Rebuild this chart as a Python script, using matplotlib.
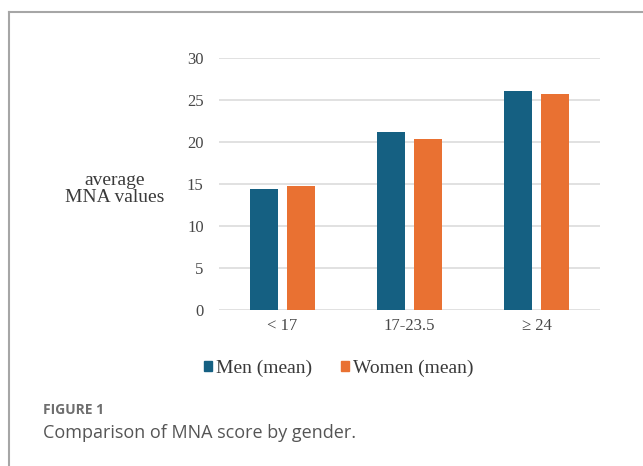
import matplotlib.pyplot as plt
from matplotlib.lines import Line2D
from matplotlib.patches import Patch
import numpy as np

# datos
categorias = ["< 17", "17-23.5", "\u2265 24"]
hombres = [14.4, 21.2, 26.1]
mujeres = [14.8, 20.4, 25.7]
series = ["Men (mean)", "Women (mean)"]

color_h = "#156082"
color_m = "#E97132"

fig = plt.figure(figsize=(6.43, 4.66), dpi=100)
ax = fig.add_axes([0.3406, 0.3348, 0.5925, 0.5407])

x = np.arange(len(categorias))
ancho = 0.22
ax.bar(x - 0.144, hombres, ancho, color=color_h, zorder=3)
ax.bar(x + 0.144, mujeres, ancho, color=color_m, zorder=3)

ax.set_xlim(-0.5, 2.5)
ax.set_ylim(0, 30)
ax.set_yticks(range(0, 31, 5))
ax.set_xticks(x)
ax.set_xticklabels(categorias)
ax.grid(axis="y", color="#d9d9d9", linewidth=1.1, zorder=0)
for s in ax.spines.values():
    s.set_visible(False)
ax.tick_params(length=0, labelsize=12, labelcolor="#474747", pad=11)
for t in ax.get_xticklabels() + ax.get_yticklabels():
    t.set_family("Liberation Serif")
ax.tick_params(axis="x", pad=6)

fig.text(115 / 643, 1 - 189 / 466, "average\nMNA values", ha="center", va="center",
         family="Liberation Serif", fontsize=14, color="#3a3a3a", linespacing=1.05)

handles = [Patch(color=color_h), Patch(color=color_m)]
fig.legend(handles, series, loc="center", bbox_to_anchor=(339 / 643, 1 - 368 / 466),
           ncol=2, frameon=False, handlelength=0.4, handleheight=0.4,
           handletextpad=0.2, columnspacing=1.5,
           prop={"family": "Liberation Serif", "size": 14}, labelcolor="#3a3a3a")

# marco de la figura
fig.add_artist(Line2D([9 / 643, 9 / 643], [0, 1 - 12 / 466], color="#a6a6a6",
                      linewidth=1.5, transform=fig.transFigure))
fig.add_artist(Line2D([9 / 643, 1], [1 - 12 / 466, 1 - 12 / 466], color="#a6a6a6",
                      linewidth=1.5, transform=fig.transFigure))

fig.text(43 / 643, 1 - 410 / 466, "FIGURE 1", ha="left", va="center",
         family="Open Sans", fontsize=10, fontweight="bold", color="#6e6e6e")
fig.text(43 / 643, 1 - 433 / 466, "Comparison of MNA score by gender.", ha="left",
         va="center", family="Open Sans", fontsize=13, color="#555555")

fig.savefig("out.png", dpi=100)
